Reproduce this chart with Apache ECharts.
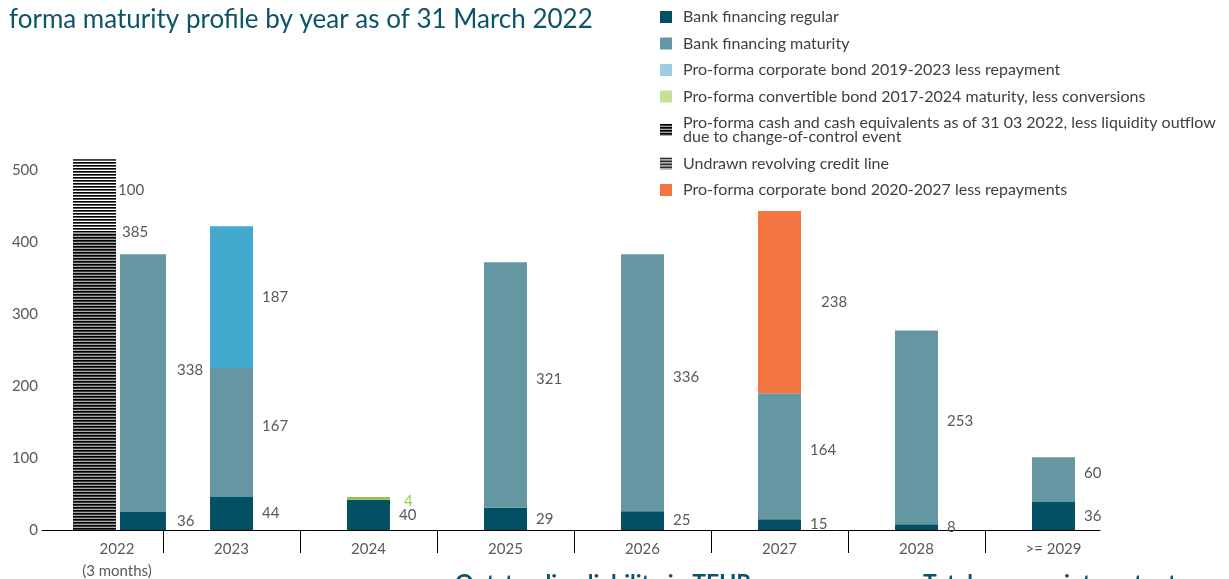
<!DOCTYPE html>
<html>
<head>
<meta charset="utf-8">
<script src="https://cdn.jsdelivr.net/npm/echarts@6/dist/echarts.min.js"></script>
<style>
  html, body { margin: 0; padding: 0; background: #fff; }
  #chart { width: 1229px; height: 579px; }
</style>
</head>
<body>
<div id="chart"></div>
<script>
const categories = ['2022\n(3 months)', '2023', '2024', '2025', '2026', '2027', '2028', '>= 2029'];
const tickSlots = ['', '', '', '', '', '', '', '', ''];

// bar heights as drawn against the left axis (TEUR)
const bankRegular   = [25, 46, 42, 31, 26, 15, 8, 39];
const bankMaturity  = [358, 179, '-', 341, 357, 175, 269, 62];
const bond2019      = ['-', 197, '-', '-', '-', '-', '-', '-'];
const convertible   = ['-', '-', 4, '-', '-', '-', '-', '-'];
const cashEquiv     = [413, '-', '-', '-', '-', '-', '-', '-'];
const undrawnRcf    = [102, '-', '-', '-', '-', '-', '-', '-'];
const bond2020      = ['-', '-', '-', '-', '-', 253, '-', '-'];

// numbers printed next to the bars
const regularLabels     = ['36', '44', '40', '29', '25', '15', '8', '36'];
const maturityLabels    = ['338', '167', '', '321', '336', '164', '253', '60'];
const bond2019Labels    = ['', '187', '', '', '', '', '', ''];
const convertibleLabels = ['', '', '4', '', '', '', '', ''];
const cashLabels        = ['385', '', '', '', '', '', '', ''];
const undrawnLabels     = ['100', '', '', '', '', '', '', ''];
const bond2020Labels    = ['', '', '', '', '', '238', '', ''];

const yTicks = { min: 0, max: 550, interval: 100 };

const NAMES = {
  regular: 'Bank financing regular',
  maturity: 'Bank financing maturity',
  bond19: 'Pro-forma corporate bond 2019-2023 less repayment',
  conv: 'Pro-forma convertible bond 2017-2024 maturity, less conversions',
  cash: 'Pro-forma cash and cash equivalents as of 31 03 2022, less liquidity outflow due to change-of-control event',
  rcf: 'Undrawn revolving credit line',
  bond20: 'Pro-forma corporate bond 2020-2027 less repayments'
};

const FONT = 'Lato';
const GREY = '#595959';

function stripes(rows) {
  const c = document.createElement('canvas');
  c.width = 4; c.height = rows.length;
  const ctx = c.getContext('2d');
  rows.forEach((col, i) => { ctx.fillStyle = col; ctx.fillRect(0, i, 4, 1); });
  return { image: c, repeat: 'repeat' };
}
const cashPattern = stripes(['#000', '#3a3a3a', '#a8a8a8']);
const rcfPattern = stripes(['#000', '#5a5a5a', '#fff']);

function lbl(texts, extra) {
  return Object.assign({
    show: true, position: 'right', distance: 9,
    color: GREY, fontFamily: FONT, fontSize: 15,
    formatter: p => texts[p.dataIndex]
  }, extra || {});
}

// 2022 column is drawn on a shifted grid, later years on the main one
const skip2022 = arr => arr.map((v, i) => (i === 0 ? '-' : v));
const only2022 = arr => [arr[0]];

const chart = echarts.init(document.getElementById('chart'));

const gridBase = { top: 134, height: 396, width: 1096, outerBoundsMode: 'none' };
const teal = '#0d5466';

chart.setOption({
  animation: false,
  title: [
    { text: 'forma maturity profile by year as of 31 March 2022', left: 4, top: 2,
      textStyle: { fontFamily: FONT, fontSize: 26, fontWeight: 'normal', color: '#0e5468' } },
    { text: 'Outstanding liability in TEUR', left: 450, top: 567,
      textStyle: { fontFamily: FONT, fontSize: 23, fontWeight: 'bold', color: teal } },
    { text: 'Total average interest rate', left: 918, top: 567,
      textStyle: { fontFamily: FONT, fontSize: 23, fontWeight: 'bold', color: teal } }
  ],
  legend: {
    orient: 'vertical', left: 655, top: 4,
    itemWidth: 12, itemHeight: 12, itemGap: 10.5,
    selectedMode: false, icon: 'rect',
    textStyle: { fontFamily: FONT, fontSize: 16, color: '#404040', lineHeight: 14, padding: [0, 0, 0, 6] },
    formatter: name => name.replace(' due to', '\ndue to'),
    data: [
      { name: NAMES.regular },
      { name: NAMES.maturity },
      { name: NAMES.bond19, itemStyle: { color: '#9dcde3' } },
      { name: NAMES.conv, itemStyle: { color: '#c8df98' } },
      { name: NAMES.cash },
      { name: NAMES.rcf },
      { name: NAMES.bond20 }
    ]
  },
  grid: [
    Object.assign({ left: 26 }, gridBase),
    Object.assign({ left: 74.5 }, gridBase),
    { left: 42, top: 134, height: 396, width: 1058, outerBoundsMode: 'none' }
  ],
  xAxis: [
    { // 0: year labels + debt bars
      type: 'category', gridIndex: 0, position: 'bottom', data: categories,
      axisLine: { show: false }, axisTick: { show: false },
      axisLabel: {
        interval: 0, hideOverlap: false,
        margin: 8, color: GREY, fontFamily: FONT, fontSize: 15, lineHeight: 22,
        formatter: (v, i) => (i === 0 ? v.split('\n').map(s => '{first|' + s + '}').join('\n') : v),
        rich: { first: { padding: [0, 0, 0, 45], color: GREY, fontFamily: FONT, fontSize: 15, lineHeight: 22 } }
      }
    },
    { // 1: liquidity bars (own band layout)
      type: 'category', gridIndex: 0, position: 'bottom', data: categories, show: false
    },
    { // 2: separator ticks between years
      type: 'category', gridIndex: 0, position: 'bottom', offset: 0, data: tickSlots, boundaryGap: false,
      axisLine: { show: false }, axisLabel: { show: false },
      axisTick: { show: true, length: 23, interval: i => i > 0 && i < tickSlots.length - 1,
        lineStyle: { color: '#000', width: 1 } }
    },
    { // 3: shifted 2022 debt bar
      type: 'category', gridIndex: 1, position: 'bottom', data: categories, show: false
    },
    { // 4: baseline
      type: 'value', gridIndex: 2, position: 'bottom', min: 0, max: 1,
      axisLine: { show: true, onZero: false, lineStyle: { color: '#000', width: 1 } },
      axisTick: { show: false }, axisLabel: { show: false }, splitLine: { show: false }
    }
  ],
  yAxis: [
    Object.assign({ type: 'value', gridIndex: 0, show: false, splitLine: { show: false } }, yTicks),
    Object.assign({ type: 'value', gridIndex: 1, show: false, splitLine: { show: false } }, yTicks),
    Object.assign({
      type: 'value', gridIndex: 2,
      axisLine: { show: false }, axisTick: { show: false }, splitLine: { show: false },
      axisLabel: { margin: 4, color: GREY, fontFamily: FONT, fontSize: 15, showMaxLabel: false }
    }, yTicks)
  ],
  series: [
    { name: NAMES.regular, type: 'bar', stack: 'debt', xAxisIndex: 0, yAxisIndex: 0, barWidth: 43,
      itemStyle: { color: '#034f64' }, data: skip2022(bankRegular), label: lbl(regularLabels) },
    { name: NAMES.maturity, type: 'bar', stack: 'debt', xAxisIndex: 0, yAxisIndex: 0, barWidth: 43,
      itemStyle: { color: '#6497a2' }, data: skip2022(bankMaturity), label: lbl(maturityLabels, { offset: [0, -6] }) },
    { name: NAMES.bond19, type: 'bar', stack: 'debt', xAxisIndex: 0, yAxisIndex: 0, barWidth: 43,
      itemStyle: { color: '#43a9cf' }, data: bond2019, label: lbl(bond2019Labels) },
    { name: NAMES.conv, type: 'bar', stack: 'debt', xAxisIndex: 0, yAxisIndex: 0, barWidth: 43,
      itemStyle: { color: '#92c352' }, data: convertible,
      label: lbl(convertibleLabels, { color: '#92d050', distance: 14, offset: [0, 3] }) },
    { name: NAMES.bond20, type: 'bar', stack: 'debt', xAxisIndex: 0, yAxisIndex: 0, barWidth: 43,
      itemStyle: { color: '#f37542' }, data: bond2020, label: lbl(bond2020Labels, { distance: 20 }) },

    { name: NAMES.cash, type: 'bar', stack: 'liq', xAxisIndex: 1, yAxisIndex: 0, barWidth: 43,
      itemStyle: { color: cashPattern }, data: cashEquiv,
      label: lbl(cashLabels, { position: ['100%', 0], align: 'left', verticalAlign: 'middle', offset: [6, 0] }) },
    { name: NAMES.rcf, type: 'bar', stack: 'liq', xAxisIndex: 1, yAxisIndex: 0, barWidth: 43,
      itemStyle: { color: rcfPattern }, data: undrawnRcf,
      label: lbl(undrawnLabels, { distance: 2, offset: [0, -6] }) },

    { name: NAMES.regular, type: 'bar', stack: 'debt22', xAxisIndex: 3, yAxisIndex: 1, barWidth: 46,
      itemStyle: { color: '#034f64' }, data: only2022(bankRegular), label: lbl(regularLabels, { distance: 11 }) },
    { name: NAMES.maturity, type: 'bar', stack: 'debt22', xAxisIndex: 3, yAxisIndex: 1, barWidth: 46,
      itemStyle: { color: '#6497a2' }, data: only2022(bankMaturity),
      label: lbl(maturityLabels, { distance: 11, offset: [0, -13] }) }
  ]
});
</script>
</body>
</html>
